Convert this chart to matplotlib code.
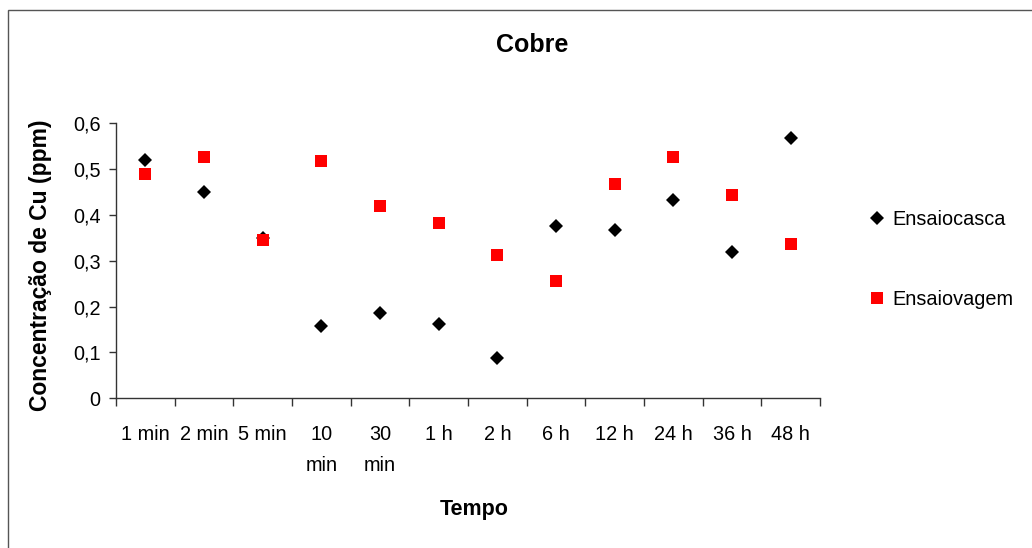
import numpy as np
import matplotlib
matplotlib.use('Agg')
import matplotlib.pyplot as plt
from matplotlib.patches import Rectangle

plt.rcParams['font.family'] = ['Liberation Sans', 'DejaVu Sans']

# dados
categorias = ['1 min', '2 min', '5 min', '10\nmin', '30\nmin', '1 h', '2 h',
              '6 h', '12 h', '24 h', '36 h', '48 h']
ensaio_casca = [0.52, 0.45, 0.35, 0.158, 0.186, 0.162, 0.087, 0.376, 0.367, 0.432, 0.320, 0.567]
ensaio_vagem = [0.49, 0.527, 0.346, 0.518, 0.420, 0.383, 0.313, 0.257, 0.467, 0.527, 0.444, 0.337]
yticks = [0, 0.1, 0.2, 0.3, 0.4, 0.5, 0.6]
yticklabels = ['0', '0,1', '0,2', '0,3', '0,4', '0,5', '0,6']

fig = plt.figure(figsize=(10.32, 5.48), dpi=100)
ax = fig.add_axes([0.1124, 0.2732, 0.6822, 0.5018])

x = np.arange(len(categorias)) + 0.5
ax.plot(x, ensaio_casca, linestyle='none', marker='D', markersize=7.6,
        color='black', markeredgewidth=0, label='Ensaiocasca')
ax.plot(x, ensaio_vagem, linestyle='none', marker='s', markersize=8.8,
        color='#ff0000', markeredgewidth=0, label='Ensaiovagem')

ax.set_xlim(0, len(categorias))
ax.set_ylim(0, 0.6)

# ticks nas divisões, rótulos no meio das categorias
ax.set_xticks(np.arange(len(categorias) + 1))
ax.set_xticklabels([])
ax.set_xticks(x, minor=True)
ax.set_xticklabels(categorias, minor=True, fontsize=14.3, linespacing=1.85)
ax.tick_params(axis='x', which='major', direction='out', length=6, width=1, color='#333333')
ax.tick_params(axis='x', which='minor', length=0, pad=19)
ax.set_yticks(yticks)
ax.set_yticklabels(yticklabels, fontsize=14.3)
ax.tick_params(axis='y', direction='out', length=5, width=1, color='#333333', pad=6)

for s in ['top', 'right']:
    ax.spines[s].set_visible(False)
for s in ['left', 'bottom']:
    ax.spines[s].set_color('#333333')
    ax.spines[s].set_linewidth(1)

fig.text(0.516, 1 - 45 / 548, 'Cobre', fontsize=18, fontweight='bold',
         ha='center', va='center')
fig.text(474 / 1032, 1 - 510 / 548, 'Tempo', fontsize=15.5, fontweight='bold',
         ha='center', va='center')
fig.text(41 / 1032, 1 - 265 / 548, 'Concentração de Cu (ppm)', fontsize=16.5,
         fontweight='bold', rotation=90, ha='center', va='center')

ax.legend(loc='center left', bbox_to_anchor=(0.842, 0.5265),
          bbox_transform=fig.transFigure, frameon=False, fontsize=14.3,
          handlelength=0.8, handletextpad=0.4, labelspacing=3.1,
          borderpad=0, borderaxespad=0)

# moldura da área do gráfico
fig.patches.append(Rectangle((8 / 1032, -0.1), 1.2, 1.1 - 10 / 548,
                             transform=fig.transFigure, fill=False,
                             edgecolor='#555555', linewidth=1))

fig.savefig('out.png', dpi=100)
